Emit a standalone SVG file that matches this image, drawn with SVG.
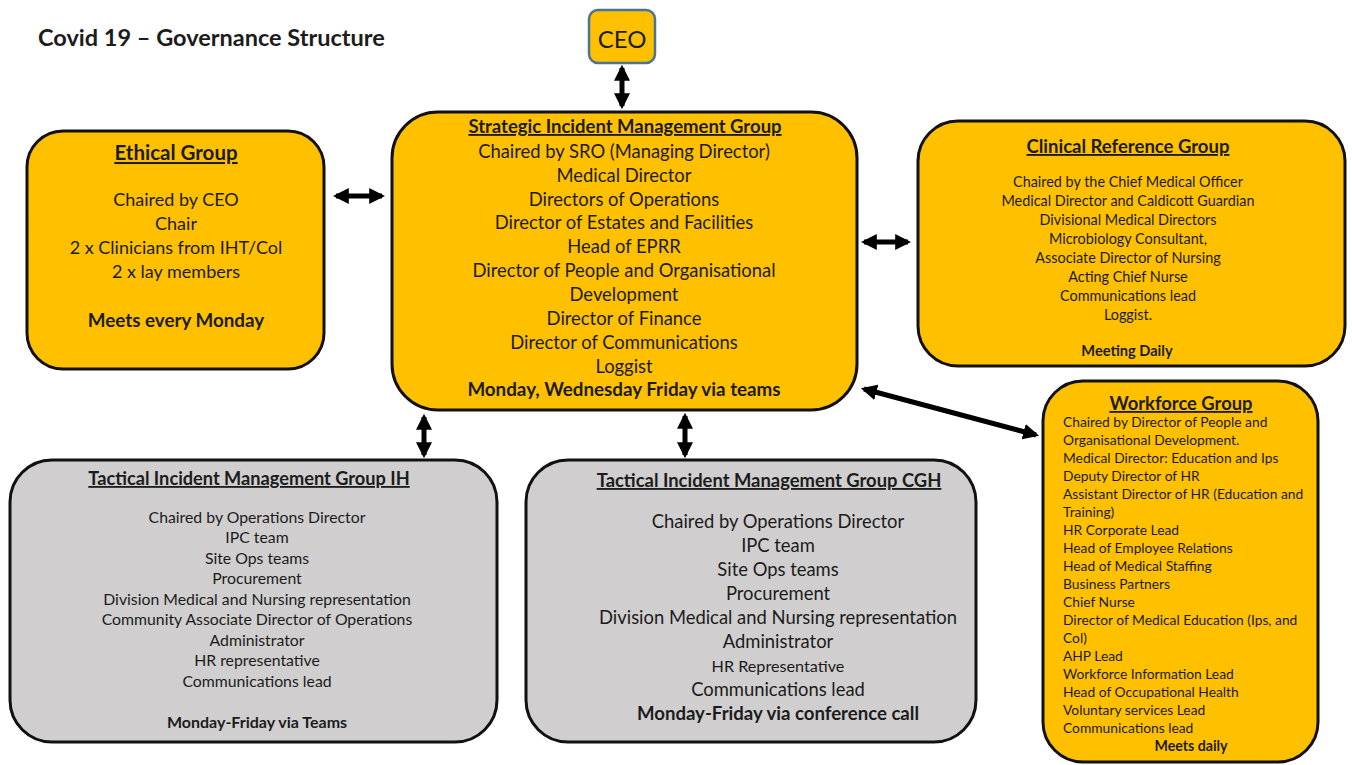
<svg xmlns="http://www.w3.org/2000/svg" width="1352" height="765" viewBox="0 0 1352 765">
<defs>
<marker id="ah" viewBox="0 0 10 10" refX="8" refY="5" markerWidth="3.2" markerHeight="3.6" orient="auto-start-reverse" markerUnits="strokeWidth">
<path d="M0,0 L10,5 L0,10 Z" fill="#000"/>
</marker>
<style>
text{font-family:Lato,"Liberation Sans",Arial,sans-serif;fill:#1c1c1c;text-anchor:middle}
.b{font-weight:bold}
.u{font-weight:bold;text-decoration:underline}
.org{fill:#FFC000;stroke:#111;stroke-width:3}
.gry{fill:#D0CECE;stroke:#111;stroke-width:3}
.con{stroke:#000;stroke-width:5;fill:none;marker-start:url(#ah);marker-end:url(#ah)}
.l{text-anchor:start}
</style>
</defs>
<rect width="1352" height="765" fill="#fff"/>
<text x="38" y="46" class="b" style="text-anchor:start;font-size:23.5px">Covid 19 – Governance Structure</text>

<g id="connectors">
<line class="con" x1="622" y1="68" x2="622" y2="106"/>
<line class="con" x1="336" y1="196" x2="382" y2="196"/>
<line class="con" x1="864" y1="242" x2="908" y2="242"/>
<line class="con" x1="864" y1="389" x2="1036" y2="435"/>
<line class="con" x1="424" y1="417" x2="424" y2="455"/>
<line class="con" x1="685" y1="416" x2="685" y2="455"/>
</g>

<g id="ceo">
<rect x="589" y="10" width="66" height="53" rx="9" fill="#FFC000" stroke="#4A7396" stroke-width="2.5"/>
<text x="622" y="48" style="font-size:24px">CEO</text>
</g>

<g id="ethical" style="font-size:18px">
<rect class="org" x="27" y="131" width="297" height="238" rx="36"/>
<text x="176" y="160" class="u" style="font-size:20.5px">Ethical Group</text>
<text x="176" y="206">Chaired by CEO</text>
<text x="176" y="230">Chair</text>
<text x="176" y="254">2 x Clinicians from IHT/Col</text>
<text x="176" y="278">2 x lay members</text>
<text x="176" y="327" class="b" style="font-size:18.8px">Meets every Monday</text>
</g>

<g id="strategic" style="font-size:18.4px">
<rect class="org" x="392" y="112" width="465" height="298" rx="46"/>
<text x="625" y="133" class="u" style="font-size:18.5px">Strategic Incident Management Group</text>
<text x="624" y="158">Chaired by SRO (Managing Director)</text>
<text x="624" y="182">Medical Director</text>
<text x="624" y="206">Directors of Operations</text>
<text x="624" y="229">Director of Estates and Facilities</text>
<text x="624" y="253">Head of EPRR</text>
<text x="624" y="277">Director of People and Organisational</text>
<text x="624" y="301">Development</text>
<text x="624" y="325">Director of Finance</text>
<text x="624" y="349">Director of Communications</text>
<text x="624" y="373">Loggist</text>
<text x="624" y="396" class="b" style="font-size:18.8px">Monday, Wednesday Friday via teams</text>
</g>

<g id="clinical" style="font-size:14.4px">
<rect class="org" x="918" y="121" width="427" height="245" rx="40"/>
<text x="1128" y="153" class="u" style="font-size:18.5px">Clinical Reference Group</text>
<text x="1128" y="187">Chaired by the Chief Medical Officer</text>
<text x="1128" y="206">Medical Director and Caldicott Guardian</text>
<text x="1128" y="225">Divisional Medical Directors</text>
<text x="1128" y="244">Microbiology Consultant,</text>
<text x="1128" y="263">Associate Director of Nursing</text>
<text x="1128" y="282">Acting Chief Nurse</text>
<text x="1128" y="301">Communications lead</text>
<text x="1128" y="320">Loggist.</text>
<text x="1127" y="356" class="b" style="font-size:14.6px">Meeting Daily</text>
</g>

<g id="workforce" style="font-size:13.8px">
<rect class="org" x="1043" y="381" width="275" height="381" rx="40"/>
<text x="1181" y="410" class="u" style="font-size:18.4px">Workforce Group</text>
<text x="1063" y="427" class="l">Chaired by Director of People and</text>
<text x="1063" y="445" class="l">Organisational Development.</text>
<text x="1063" y="463" class="l">Medical Director: Education and Ips</text>
<text x="1063" y="481" class="l">Deputy Director of HR</text>
<text x="1063" y="499" class="l">Assistant Director of HR (Education and</text>
<text x="1063" y="517" class="l">Training)</text>
<text x="1063" y="535" class="l">HR Corporate Lead</text>
<text x="1063" y="553" class="l">Head of Employee Relations</text>
<text x="1063" y="571" class="l">Head of Medical Staffing</text>
<text x="1063" y="589" class="l">Business Partners</text>
<text x="1063" y="607" class="l">Chief Nurse</text>
<text x="1063" y="625" class="l">Director of Medical Education (Ips, and</text>
<text x="1063" y="643" class="l">Col)</text>
<text x="1063" y="661" class="l">AHP Lead</text>
<text x="1063" y="679" class="l">Workforce Information Lead</text>
<text x="1063" y="697" class="l">Head of Occupational Health</text>
<text x="1063" y="715" class="l">Voluntary services Lead</text>
<text x="1063" y="733" class="l">Communications lead</text>
<text x="1191" y="751" class="b" style="font-size:14.2px">Meets daily</text>
</g>

<g id="tactical-ih" style="font-size:15.8px">
<rect class="gry" x="10" y="460" width="487" height="282" rx="42"/>
<text x="249" y="485" class="u" style="font-size:18.2px">Tactical Incident Management Group IH</text>
<text x="257" y="523">Chaired by Operations Director</text>
<text x="257" y="543">IPC team</text>
<text x="257" y="564">Site Ops teams</text>
<text x="257" y="584">Procurement</text>
<text x="257" y="605">Division Medical and Nursing representation</text>
<text x="257" y="625">Community Associate Director of Operations</text>
<text x="257" y="646">Administrator</text>
<text x="257" y="666">HR representative</text>
<text x="257" y="687">Communications lead</text>
<text x="257" y="728" class="b" style="font-size:16px">Monday-Friday via Teams</text>
</g>

<g id="tactical-cgh" style="font-size:18.4px">
<rect class="gry" x="526" y="460" width="450" height="282" rx="42"/>
<text x="769" y="487" class="u" style="font-size:18.4px">Tactical Incident Management Group CGH</text>
<text x="778" y="528">Chaired by Operations Director</text>
<text x="778" y="552">IPC team</text>
<text x="778" y="576">Site Ops teams</text>
<text x="778" y="600">Procurement</text>
<text x="778" y="624">Division Medical and Nursing representation</text>
<text x="778" y="648">Administrator</text>
<text x="778" y="672" style="font-size:16.2px">HR Representative</text>
<text x="778" y="696">Communications lead</text>
<text x="778" y="720" class="b" style="font-size:18.6px">Monday-Friday via conference call</text>
</g>
</svg>
